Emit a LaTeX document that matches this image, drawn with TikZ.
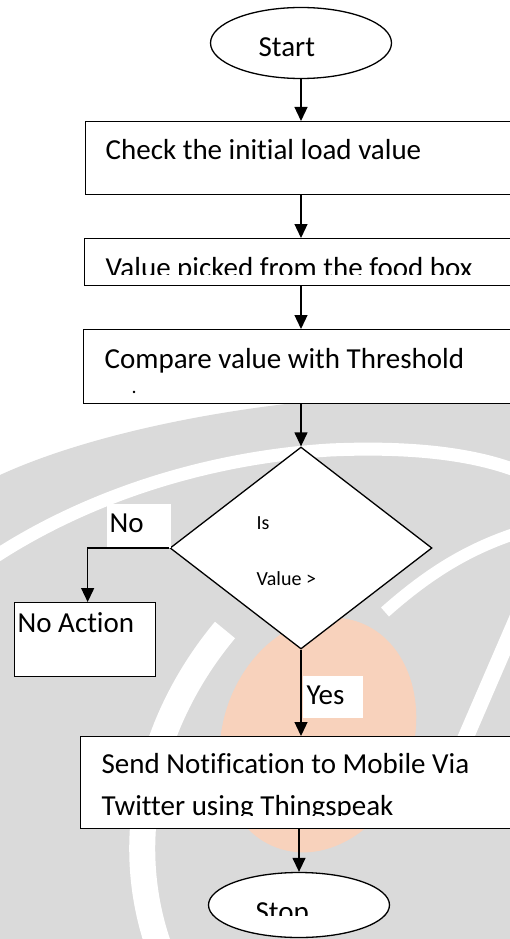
\documentclass[tikz,border=0pt]{standalone}
\usepackage{fontspec}
\setmainfont{Carlito}[Ligatures=NoCommon]
\usetikzlibrary{shapes.geometric,arrows.meta}
\definecolor{wmgray}{HTML}{DADADA}
\definecolor{wmorange}{HTML}{F8D2BC}

\begin{document}
\begin{tikzpicture}[x=1pt,y=-1pt,line width=1.3pt,
  termnode/.style={draw,ellipse,fill=white,inner sep=0pt},
  boxnode/.style={draw,rectangle,fill=white,inner sep=0pt,anchor=north west},
  decnode/.style={draw,diamond,fill=white,inner sep=0pt},
  lblbg/.style={fill=white,inner sep=0pt,anchor=north west},
  txt/.style={font=\fontsize{29}{34}\selectfont,anchor=base west,inner sep=0pt},
  smalltxt/.style={font=\fontsize{20}{24}\selectfont,anchor=base west,inner sep=0pt},
  arr/.style={-{Triangle[length=14pt,width=13pt]},line width=1.3pt}]

\useasboundingbox (0,0) rectangle (510,939);
\clip (0,0) rectangle (510,939);
\fill[white] (0,0) rectangle (510,939);

% faint logo in the background
\fill[wmgray] (0,475) .. controls (120,420) and (320,392) .. (440,396)
  -- (510,400) -- (510,939) -- (0,939) -- cycle;
\draw[white,line width=13pt] (-10,560) .. controls (80,500) and (200,458) .. (330,450)
  .. controls (420,446) and (480,456) .. (520,472);
\draw[white,line width=12pt] (385,612) .. controls (430,572) and (470,548) .. (520,532);
\fill[wmorange,rotate around={-20:(318,735)}] (318,735) ellipse (95 and 120);
\draw[white,line width=26pt] (160,950) .. controls (120,840) and (150,720) .. (225,630);
\draw[white,line width=16pt] (525,600) -- (430,820);

% start
\node[termnode,minimum width=181pt,minimum height=71pt] (start) at (301,43) {};
\node[txt] (starttxt) at (258,57) {Start};

% check initial load
\node[boxnode,minimum width=450pt,minimum height=73pt] (check) at (85,121) {};
\node[txt] (checktxt) at (105,159) {Check the initial load value};

% value from food box
\node[boxnode,minimum width=450pt,minimum height=47pt] (pick) at (84,238) {};
\begin{scope}
  \clip (84,238) rectangle (510,274);
  \node[txt] (picktxt) at (105,277) {Value picked from the food box};
\end{scope}

% compare with threshold
\node[boxnode,minimum width=450pt,minimum height=74pt] (comp) at (83,329) {};
\node[txt] (comptxt) at (104,368) {Compare value with Threshold};
\node[smalltxt] (compdot) at (131,393) {.};

% decision
\node[decnode,minimum width=262pt,minimum height=202pt] (dec) at (301,548) {};
\node[smalltxt] (dectxta) at (256,529) {Is};
\node[smalltxt] (dectxtb) at (256,585) {Value >};

% no branch
\node[lblbg,minimum width=64pt,minimum height=44pt] (nobg) at (106,503) {};
\node[txt] (notxt) at (109,532) {No};
\node[boxnode,minimum width=141pt,minimum height=74pt] (noact) at (14,602) {};
\node[txt] (noacttxt) at (17,632) {No Action};

% yes branch
\node[lblbg,minimum width=60pt,minimum height=42pt] (yesbg) at (302,675) {};
\node[txt] (yestxt) at (306,704) {Yes};
\node[boxnode,minimum width=450pt,minimum height=92pt] (notify) at (80,736) {};
\node[txt] (notifytxta) at (101,773) {Send Notification to Mobile Via};
\begin{scope}
  \clip (80,736) rectangle (510,815.5);
  \node[txt] (notifytxtb) at (101,815) {Twitter using Thingspeak};
\end{scope}

% stop
\node[termnode,minimum width=181pt,minimum height=65pt] (stop) at (299,905) {};
\begin{scope}
  \clip (200,880) rectangle (400,915);
  \node[txt] (stoptxt) at (255,921) {Stop};
\end{scope}

% connectors
\draw[arr] (start.south) -- (start.south |- check.north);
\draw[arr] (start.south |- check.south) -- (start.south |- pick.north);
\draw[arr] (start.south |- pick.south) -- (start.south |- comp.north);
\draw[arr] (start.south |- comp.south) -- (dec.north);
\draw[arr] (dec.west) -| ([xshift=2.5pt]noact.north);
\draw[arr] (dec.south) -- (dec.south |- notify.north);
\draw[arr] (stop.north |- notify.south) -- (stop.north);
\end{tikzpicture}
\end{document}
